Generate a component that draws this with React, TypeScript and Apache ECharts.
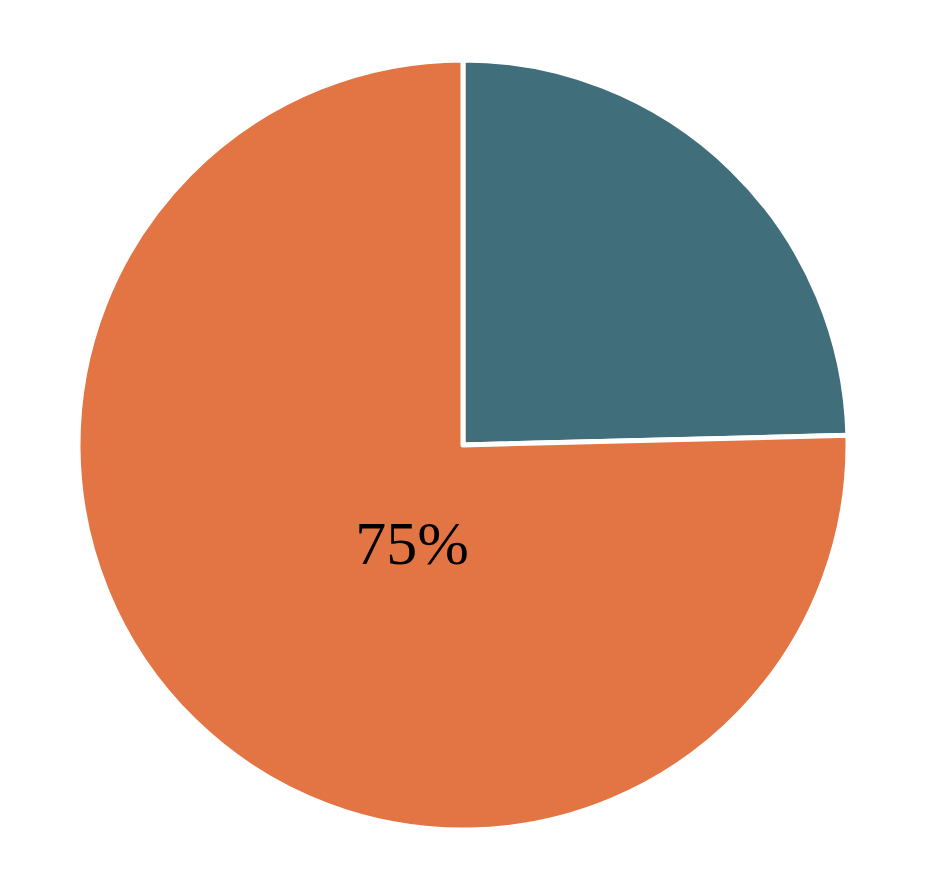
import { useEffect, useRef } from "react";
import * as echarts from "echarts";

const names = ["Teal", "Orange"];
const values = [24.6, 75.4];
const colors = ["#416E7B", "#E37444"];

export default function App(): JSX.Element {
  const chartRef = useRef<HTMLDivElement>(null);
  useEffect(() => {
    const myChart = echarts.init(chartRef.current, null, { renderer: "svg" });
    const total = values.reduce((a, b) => a + b, 0);
    const labelText = Math.round((values[1] / total) * 100) + "%";
    const option = {
      animation: false,
      backgroundColor: "#ffffff",
      series: [
        {
          type: "pie",
          center: [463, 445],
          radius: 385,
          startAngle: 90,
          clockwise: true,
          label: { show: false },
          labelLine: { show: false },
          emphasis: { disabled: true },
          itemStyle: { borderColor: "#ffffff", borderWidth: 5 },
          data: names.map((n, i) => ({
            name: n,
            value: values[i],
            itemStyle: { color: colors[i] },
          })),
        },
      ],
      graphic: [
        {
          type: "text",
          z: 100,
          x: 412,
          y: 543,
          style: {
            text: labelText,
            fontFamily: "Liberation Serif",
            fontSize: 62,
            fill: "#000000",
            textAlign: "center",
            textVerticalAlign: "middle",
          },
        },
      ],
    };
    myChart.setOption(option);
    return () => {
      myChart.dispose();
    };
  }, []);

  return (
    <div
      ref={chartRef}
      style={{ position: "absolute", left: 0, top: 0, width: 925, height: 869 }}
    ></div>
  );
}
